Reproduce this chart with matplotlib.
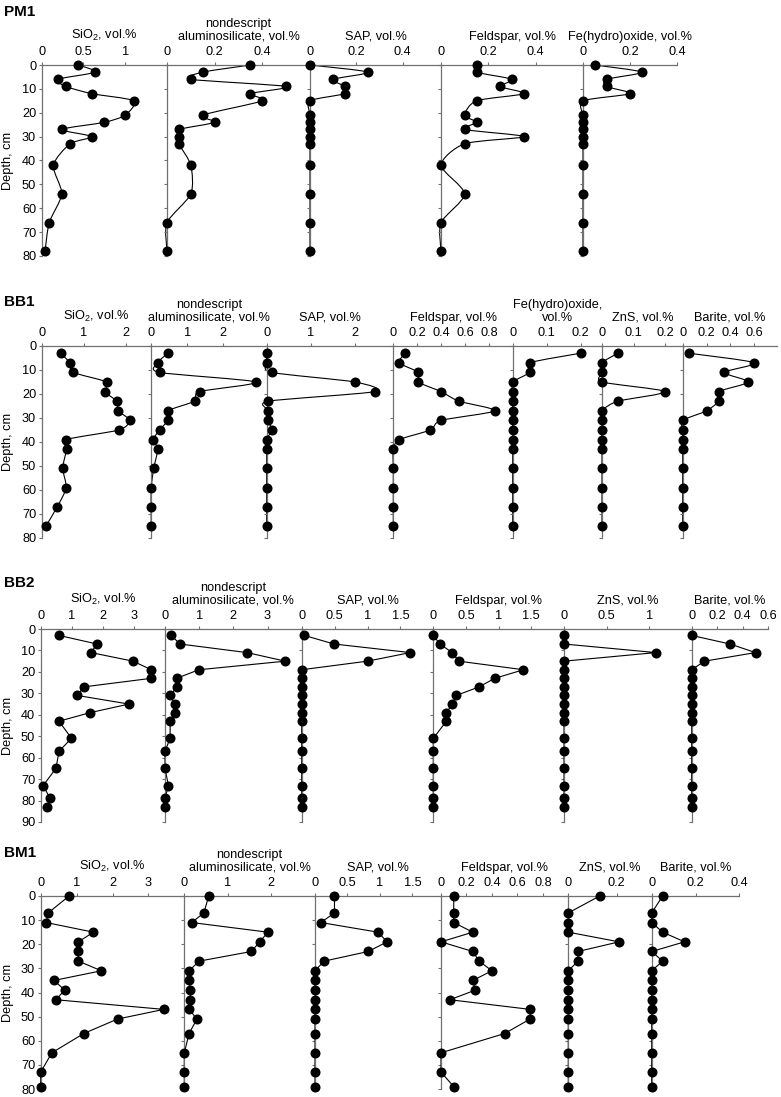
import numpy as np
import matplotlib.pyplot as plt
from matplotlib.path import Path
from matplotlib.patches import PathPatch
from matplotlib.ticker import FuncFormatter

plt.rcParams['font.family'] = ['Liberation Sans', 'DejaVu Sans']
plt.rcParams['mathtext.fontset'] = 'custom'
plt.rcParams['mathtext.rm'] = 'Liberation Sans'

W, H = 781, 1097

# ---- data (vol.%) ----
pm1_depth = [0, 3, 6, 9, 12, 15, 21, 24, 27, 30, 33, 42, 54, 66, 78]
pm1_sio2 = [0.44, 0.64, 0.19, 0.29, 0.6, 1.1, 1.0, 0.75, 0.24, 0.6, 0.34, 0.14, 0.24, 0.09, 0.04]
pm1_nonde = [0.35, 0.15, 0.1, 0.5, 0.35, 0.4, 0.15, 0.2, 0.05, 0.05, 0.05, 0.1, 0.1, 0, 0]
pm1_sap = [0, 0.25, 0.1, 0.15, 0.15, 0, 0, 0, 0, 0, 0, 0, 0, 0, 0]
pm1_feld = [0.15, 0.15, 0.3, 0.25, 0.35, 0.15, 0.1, 0.15, 0.1, 0.35, 0.1, 0, 0.1, 0, 0]
pm1_fe = [0.05, 0.25, 0.1, 0.1, 0.2, 0, 0, 0, 0, 0, 0, 0, 0, 0, 0]

bb1_depth = [3, 7, 11, 15, 19, 23, 27, 31, 35, 39, 43, 51, 59, 67, 75]
bb1_sio2 = [0.45, 0.67, 0.75, 1.54, 1.5, 1.78, 1.82, 2.09, 1.83, 0.58, 0.59, 0.5, 0.58, 0.37, 0.1]
bb1_nonde = [0.46, 0.18, 0.23, 2.9, 1.34, 1.2, 0.46, 0.46, 0.23, 0.06, 0.18, 0.07, 0, 0, 0]
bb1_sap = [0, 0, 0.11, 2.0, 2.45, 0.04, 0.04, 0.04, 0.11, 0, 0, 0, 0, 0, 0]
bb1_feld = [0.1, 0.05, 0.21, 0.21, 0.4, 0.55, 0.85, 0.4, 0.31, 0.05, 0, 0, 0, 0, 0]
bb1_fe = [0.2, 0.05, 0.05, 0, 0, 0, 0, 0, 0, 0, 0, 0, 0, 0, 0]
bb1_zns = [0.05, 0, 0, 0, 0.2, 0.05, 0, 0, 0, 0, 0, 0, 0, 0, 0]
bb1_barite = [0.05, 0.6, 0.35, 0.55, 0.3, 0.3, 0.2, 0, 0, 0, 0, 0, 0, 0, 0]

bb2_depth = [3, 7, 11, 15, 19, 23, 27, 31, 35, 39, 43, 51, 57, 65, 73, 79, 83]
bb2_sio2 = [0.59, 1.81, 1.62, 2.97, 3.56, 3.56, 1.38, 1.18, 2.84, 1.59, 0.59, 0.99, 0.59, 0.49, 0.08, 0.3, 0.21]
bb2_nonde = [0.18, 0.44, 2.4, 3.52, 0.99, 0.34, 0.34, 0.15, 0.29, 0.29, 0.15, 0.15, 0, 0, 0.1, 0, 0]
bb2_sap = [0.04, 0.49, 1.65, 1.0, 0, 0, 0, 0, 0, 0, 0, 0, 0, 0, 0, 0, 0]
bb2_feld = [0, 0.1, 0.29, 0.39, 1.38, 0.94, 0.7, 0.35, 0.29, 0.2, 0.2, 0, 0, 0, 0, 0, 0]
bb2_zns = [0, 0, 1.08, 0, 0, 0, 0, 0, 0, 0, 0, 0, 0, 0, 0, 0, 0]
bb2_barite = [0, 0.3, 0.5, 0.1, 0, 0, 0, 0, 0, 0, 0, 0, 0, 0, 0, 0, 0]

bm1_depth = [0, 7, 11, 15, 19, 23, 27, 31, 35, 39, 43, 47, 51, 57, 65, 73, 79]
bm1_sio2 = [0.79, 0.21, 0.15, 1.47, 1.05, 1.05, 1.05, 1.69, 0.37, 0.67, 0.42, 3.43, 2.14, 1.2, 0.31, 0, 0]
bm1_nonde = [0.56, 0.45, 0.17, 1.92, 1.73, 1.54, 0.34, 0.11, 0.11, 0.14, 0.14, 0.11, 0.29, 0.11, 0, 0, 0]
bm1_sap = [0.3, 0.3, 0.09, 0.97, 1.11, 0.82, 0.14, 0, 0, 0, 0, 0, 0, 0, 0, 0, 0]
bm1_feld = [0.1, 0.1, 0.1, 0.25, 0, 0.25, 0.3, 0.4, 0.25, 0.27, 0.07, 0.7, 0.7, 0.5, 0, 0, 0.1]
bm1_zns = [0.13, 0, 0, 0, 0.21, 0.04, 0.04, 0, 0, 0, 0, 0, 0, 0, 0, 0, 0]
bm1_barite = [0.05, 0, 0, 0.05, 0.15, 0, 0.05, 0, 0, 0, 0, 0, 0, 0, 0, 0, 0]

SIO2 = 'SiO$_\\mathregular{2}$, vol.%'
NONDE = 'nondescript\naluminosilicate, vol.%'

# label, values, axis max, ticks
sites = [
    ('PM1', pm1_depth, 80, True, [
        (SIO2, pm1_sio2, 1.5, [0, 0.5, 1]),
        (NONDE, pm1_nonde, 0.6, [0, 0.2, 0.4]),
        ('SAP, vol.%', pm1_sap, 0.565, [0, 0.2, 0.4]),
        ('Feldspar, vol.%', pm1_feld, 0.6, [0, 0.2, 0.4]),
        ('Fe(hydro)oxide, vol.%', pm1_fe, 0.4, [0, 0.2, 0.4]),
    ]),
    ('BB1', bb1_depth, 80, True, [
        (SIO2, bb1_sio2, 2.6, [0, 1, 2]),
        (NONDE, bb1_nonde, 3.2, [0, 1, 2]),
        ('SAP, vol.%', bb1_sap, 2.87, [0, 1, 2]),
        ('Feldspar, vol.%', bb1_feld, 1.0, [0, 0.2, 0.4, 0.6, 0.8]),
        ('Fe(hydro)oxide,\nvol.%', bb1_fe, 0.263, [0, 0.1, 0.2]),
        ('ZnS, vol.%', bb1_zns, 0.255, [0, 0.1, 0.2]),
        ('Barite, vol.%', bb1_barite, 0.79, [0, 0.2, 0.4, 0.6]),
    ]),
    ('BB2', bb2_depth, 90, False, [
        (SIO2, bb2_sio2, 4, [0, 1, 2, 3]),
        (NONDE, bb2_nonde, 4, [0, 1, 2, 3]),
        ('SAP, vol.%', bb2_sap, 2, [0, 0.5, 1, 1.5]),
        ('Feldspar, vol.%', bb2_feld, 2, [0, 0.5, 1, 1.5]),
        ('ZnS, vol.%', bb2_zns, 1.5, [0, 0.5, 1]),
        ('Barite, vol.%', bb2_barite, 0.6, [0, 0.2, 0.4, 0.6]),
    ]),
    ('BM1', bm1_depth, 80, False, [
        (SIO2, bm1_sio2, 4, [0, 1, 2, 3]),
        (NONDE, bm1_nonde, 3, [0, 1, 2]),
        ('SAP, vol.%', bm1_sap, 1.94, [0, 0.5, 1, 1.5]),
        ('Feldspar, vol.%', bm1_feld, 1.0, [0, 0.2, 0.4, 0.6, 0.8]),
        ('ZnS, vol.%', bm1_zns, 0.345, [0, 0.2]),
        ('Barite, vol.%', bm1_barite, 0.4, [0, 0.2, 0.4]),
    ]),
]

# layout in pixels: panel edges, top & bottom of depth axis, title y
layout = [
    ([41.7, 167, 310, 441, 583, 677], 65, 256, 12),
    ([41.7, 151.2, 266.7, 393.3, 512.7, 602, 682.7, 777], 346, 538, 302),
    ([40.7, 165, 301.7, 433.3, 564, 691.7, 768.3], 629, 822, 583),
    ([40.7, 184.3, 315, 441, 568.3, 651.7, 739.3], 896, 1089, 853),
]

AXC = '#707070'
FS = 9.2


def smooth_path(x, y, k=8.0):
    pts = np.column_stack([x, y]).astype(float)
    p = np.vstack([pts[0], pts, pts[-1]])
    verts = [pts[0]]
    codes = [Path.MOVETO]
    for i in range(1, len(p) - 2):
        c1 = p[i] + (p[i + 1] - p[i - 1]) / k
        c2 = p[i + 1] - (p[i + 2] - p[i]) / k
        verts += [c1, c2, p[i + 1]]
        codes += [Path.CURVE4] * 3
    return Path(verts, codes)


fig = plt.figure(figsize=(W / 100, H / 100), dpi=100)

for (name, depth, dmax, smooth, cols), (xs, ytop, ybot, ty) in zip(sites, layout):
    fig.text(4 / W, 1 - ty / H, name, fontsize=11, fontweight='bold', va='center', ha='left')
    fig.text(8 / W, 1 - (ytop + ybot) / 2 / H, 'Depth, cm', fontsize=FS, rotation=90,
             va='center', ha='center')
    for i, (label, vals, xmax, ticks) in enumerate(cols):
        ax = fig.add_axes([xs[i] / W, 1 - ybot / H, (xs[i + 1] - xs[i]) / W, (ybot - ytop) / H])
        ax.set_xlim(0, xmax)
        ax.set_ylim(dmax, 0)
        for s in ['right', 'bottom']:
            ax.spines[s].set_visible(False)
        for s in ['left', 'top']:
            ax.spines[s].set_color(AXC)
            ax.spines[s].set_linewidth(0.9)
        ax.patch.set_alpha(0)
        ax.xaxis.tick_top()
        ax.set_xticks(ticks)
        ax.xaxis.set_major_formatter(FuncFormatter(lambda v, p: '%g' % v))
        ax.set_yticks(np.arange(0, dmax + 1, 10))
        ax.tick_params(axis='x', direction='out', length=2.5, width=0.8, color=AXC,
                       labelsize=FS, pad=2.5)
        ax.tick_params(axis='y', direction='out', length=2.5, width=0.8, color=AXC,
                       labelsize=FS, pad=1.5, labelleft=(i == 0))
        if smooth:
            ax.add_patch(PathPatch(smooth_path(vals, depth), fill=False, lw=0.8,
                                   edgecolor='black', clip_on=False))
        else:
            ax.plot(vals, depth, color='black', lw=0.8, clip_on=False)
        ax.plot(vals, depth, 'o', color='black', ms=6.2, clip_on=False, zorder=3)
        ax.annotate(label, xy=(0.5, 1), xycoords='axes fraction', xytext=(0, 16),
                    textcoords='offset points', ha='center', va='bottom',
                    fontsize=FS, linespacing=1.05)

fig.savefig('out.png', dpi=100)
